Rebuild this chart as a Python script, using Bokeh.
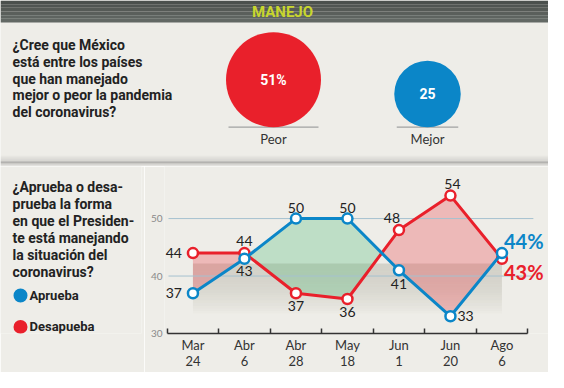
import numpy as np
from bokeh.plotting import figure
from bokeh.models import Range1d, FixedTicker
from bokeh.layouts import column, row
from bokeh.core.properties import value
from bokeh.embed import file_html
from bokeh.resources import INLINE

# ---------------- data ----------------
title = "MANEJO"
q1_lines = ["¿Cree que México", "está entre los países", "que han manejado",
            "mejor o peor la pandemia", "del coronavirus?"]
bubble_labels = ["Peor", "Mejor"]
bubble_values = [51, 25]
bubble_text = ["51%", "25"]

q2_lines = ["¿Aprueba o desa-", "prueba la forma", "en que el Presiden-",
            "te está manejando", "la situación del", "coronavirus?"]
series_names = ["Aprueba", "Desapueba"]
months = ["Mar", "Abr", "Abr", "May", "Jun", "Jun", "Ago"]
days = ["24", "6", "28", "18", "1", "20", "6"]
aprueba = [37, 43, 50, 50, 41, 33, 44]
desaprueba = [44, 44, 37, 36, 48, 54, 43]
y_ticks = [30, 40, 50]

# ---------------- styles / layout ----------------
BG = "#eeede8"
BLUE = "#0b86c8"
RED = "#e9202b"
DARK = "#222222"
Q_FONT = value("Roboto")
L_FONT = value("Lato")
R_FONT = value("Roboto")

W, H = 548, 372
TOP_H = 166
BOT_H = H - TOP_H
LEFT_W = 144
LEFT_MBR = 3
CH_W = W - LEFT_W
MBL, MBB = 20, 36


def base_fig(w, h, xr, yr, **kw):
    return figure(width=w, height=h, x_range=xr, y_range=yr, output_backend="svg",
                  toolbar_location=None, background_fill_color=BG, border_fill_color=BG,
                  outline_line_color=None, **kw)


# ---------------- top panel ----------------
top = base_fig(W, TOP_H, Range1d(0, W), Range1d(TOP_H, 0),
               x_axis_type=None, y_axis_type=None, min_border=0)

hdr_cols = ["#4b504d", "#505552", "#555a56", "#5a5f5b", "#5e6460", "#626864"]
hh = 22 / len(hdr_cols)
top.quad(left=0, right=W, top=[i * hh for i in range(len(hdr_cols))],
         bottom=[(i + 1) * hh for i in range(len(hdr_cols))], fill_color=hdr_cols, line_color=None)
top.text(x=[282], y=[11.5], text=[title], text_align="center", text_baseline="middle",
         text_font=R_FONT, text_font_style="bold", text_font_size="15px", text_color="#c8d62d")

top.text(x=[12] * len(q1_lines), y=[44.5 + 16.75 * i for i in range(len(q1_lines))], text=q1_lines,
         text_font=Q_FONT, text_font_style="bold", text_font_size="14px", text_color=DARK,
         text_baseline="alphabetic")

# bubbles (area proportional)
k = 6.65
bx0, bstep = 273, 154
top.extra_x_ranges = {"bub": Range1d(-bx0 / bstep, (W - bx0) / bstep)}
idx = np.arange(len(bubble_values))
r = k * np.sqrt(np.array(bubble_values, dtype=float))
base_y = 126.7
cy = base_y - r
half = (r - 2.5) / bstep
top.segment(x0=idx - half, x1=idx + half, y0=base_y, y1=base_y, line_color="#a0a2a2",
            line_width=1.2, x_range_name="bub")
top.scatter(x=idx, y=cy, size=2 * r, marker="circle", fill_color=[RED, BLUE],
            line_color=None, x_range_name="bub")
top.text(x=idx, y=cy, text=bubble_text, text_align="center", text_baseline="middle",
         text_font=R_FONT, text_font_style="bold", text_font_size="14px", text_color="white",
         x_range_name="bub")
top.text(x=idx, y=138.5, text=bubble_labels, text_align="center", text_baseline="middle",
         text_font=L_FONT, text_font_size="13px", text_color="#333333", x_range_name="bub")

# shadow separating the panels
sh_y = np.linspace(154, 161, 8)
top.quad(left=0, right=W, top=sh_y[:-1], bottom=sh_y[1:], fill_color="#555555",
         fill_alpha=np.linspace(0.0, 0.16, 7), line_color=None)
top.quad(left=0, right=W, top=161, bottom=162.3, fill_color="#555555", fill_alpha=0.45,
         line_color=None)
sh2 = np.linspace(162.3, TOP_H, 5)
top.quad(left=0, right=W, top=sh2[:-1], bottom=sh2[1:], fill_color="#555555",
         fill_alpha=np.linspace(0.25, 0.03, 4), line_color=None)

# ---------------- bottom left: question + legend ----------------
left = base_fig(LEFT_W, BOT_H, Range1d(0, LEFT_W - LEFT_MBR), Range1d(H - MBB, TOP_H),
                x_axis_type=None, y_axis_type=None, min_border=0, min_border_bottom=MBB,
                min_border_right=LEFT_MBR)
left.text(x=[12] * len(q2_lines), y=[186.7 + 17.4 * i for i in range(len(q2_lines))], text=q2_lines,
          text_font=Q_FONT, text_font_style="bold", text_font_size="14px", text_color=DARK,
          text_baseline="alphabetic")
ly = [297.3 + 32 * i for i in range(len(series_names))]
left.scatter(x=[20] * len(ly), y=ly, size=14, marker="circle", fill_color=[BLUE, RED],
             line_color=None)
left.text(x=[29] * len(ly), y=ly, text=series_names, text_baseline="middle",
          text_font=R_FONT, text_font_style="bold", text_font_size="13px", text_color=DARK)

# ---------------- bottom right: line chart ----------------
n = len(months)
unit = 51.5          # px per period
x0_px = 166.7        # where the axis starts
frame_left_px = LEFT_W + MBL
xs = -(x0_px - frame_left_px) / unit
xe = xs + (CH_W - MBL) / unit
yu = 5.85            # px per point
ys = min(y_ticks)
ye = ys + (BOT_H - MBB) / yu

chart = base_fig(CH_W, BOT_H, Range1d(xs, xe), Range1d(ys, ye),
                 min_border_left=MBL, min_border_right=0, min_border_top=0, min_border_bottom=MBB)
chart.xgrid.visible = False
chart.ygrid.visible = False

centers = np.arange(n) + 0.5
xa = chart.xaxis[0]
xa.ticker = FixedTicker(ticks=list(centers), minor_ticks=list(range(n + 1)))
xa.major_label_overrides = {float(c): f"{m}\n{d}" for c, m, d in zip(centers, months, days)}
xa.bounds = (0, n)
xa.axis_line_color = "#333333"
xa.axis_line_width = 1.5
xa.major_tick_line_color = None
xa.major_tick_in = 0
xa.major_tick_out = 0
xa.minor_tick_in = 5
xa.minor_tick_out = 0
xa.minor_tick_line_color = "#333333"
xa.minor_tick_line_width = 1.5
xa.major_label_text_font = "Lato"
xa.major_label_text_font_size = "13px"
xa.major_label_text_line_height = 1.05
xa.major_label_text_color = "#333333"
xa.major_label_standoff = 3

ya = chart.yaxis[0]
ya.ticker = FixedTicker(ticks=y_ticks)
ya.axis_line_color = None
ya.major_tick_line_color = None
ya.major_tick_in = 0
ya.major_tick_out = 0
ya.minor_tick_line_color = None
ya.major_label_text_font = "Lato"
ya.major_label_text_font_size = "10px"
ya.major_label_text_color = "#8a8a8a"
ya.major_label_standoff = 2

# grey gradient band behind the lines
N = 20
gy = np.linspace(42.2, 33.0, N + 1)
t = np.linspace(0, 1, N)
chart.quad(left=centers[0], right=centers[-1], top=gy[:-1], bottom=gy[1:], fill_color="#8c8876",
           fill_alpha=0.27 * (1 - t ** 2), line_color=None)

# fills between the two series
a = np.array(aprueba, float)
b = np.array(desaprueba, float)
regions = []
cx, ca, cb = [centers[0]], [a[0]], [b[0]]
sgn = np.sign(a[0] - b[0])
for i in range(n - 1):
    d0, d1 = a[i] - b[i], a[i + 1] - b[i + 1]
    if d0 * d1 < 0:
        tt = d0 / (d0 - d1)
        xc = centers[i] + tt * (centers[i + 1] - centers[i])
        yc = a[i] + tt * (a[i + 1] - a[i])
        cx.append(xc); ca.append(yc); cb.append(yc)
        regions.append((cx, ca, cb, sgn))
        cx, ca, cb = [xc], [yc], [yc]
        sgn = np.sign(d1)
    cx.append(centers[i + 1]); ca.append(a[i + 1]); cb.append(b[i + 1])
regions.append((cx, ca, cb, sgn))
pxs = [list(rx) + list(rx[::-1]) for rx, ra, rb, s in regions]
pys = [list(ra) + list(rb[::-1]) for rx, ra, rb, s in regions]
pcol = ["#3fb46a" if s > 0 else "#ee2b36" for rx, ra, rb, s in regions]
chart.patches(xs=pxs, ys=pys, fill_color=pcol, fill_alpha=0.27, line_color=None)

# gridlines
grid_vals = [v for v in y_ticks if v > ys]
chart.segment(x0=0.025, x1=7.11, y0=grid_vals, y1=grid_vals, line_color="#a6c2cf", line_width=1)

# lines + markers
for vals, col in ((desaprueba, RED), (aprueba, BLUE)):
    chart.line(x=centers, y=vals, line_color=col, line_width=3)
    chart.scatter(x=centers, y=vals, size=10, marker="circle", fill_color="white",
                  line_color=col, line_width=2.5)

# data labels (offsets in screen px, + = up)
lab_red_dx = [-11, 0, 0, 0, -7, 2, 2]
lab_red_dy = [0, 12.5, -13, -13, 12, 12, -13.5]
lab_red_al = ["right", "center", "center", "center", "center", "center", "left"]
lab_blue_dx = [-11, 0, 0, 0, 0, 7, 2]
lab_blue_dy = [0, -12.5, 10.5, 10.5, -14, 0, 12]
lab_blue_al = ["right", "center", "center", "center", "center", "left", "left"]

for vals, col, dx, dy, al in ((desaprueba, RED, lab_red_dx, lab_red_dy, lab_red_al),
                              (aprueba, BLUE, lab_blue_dx, lab_blue_dy, lab_blue_al)):
    lx = centers + np.array(dx) / unit
    lyv = np.array(vals, float) + np.array(dy) / yu
    chart.text(x=lx[:-1], y=lyv[:-1], text=[str(v) for v in vals[:-1]], text_align=al[:-1],
               text_baseline="middle", text_font=L_FONT, text_font_size="14px", text_color=DARK)
    chart.text(x=lx[-1:], y=lyv[-1:], text=[f"{vals[-1]}%"], text_align=al[-1],
               text_baseline="middle", text_font=L_FONT, text_font_style="bold",
               text_font_size="20px", text_color=col)

layout = column(top, row(left, chart))
open("out.html", "w").write(file_html(layout, INLINE))
